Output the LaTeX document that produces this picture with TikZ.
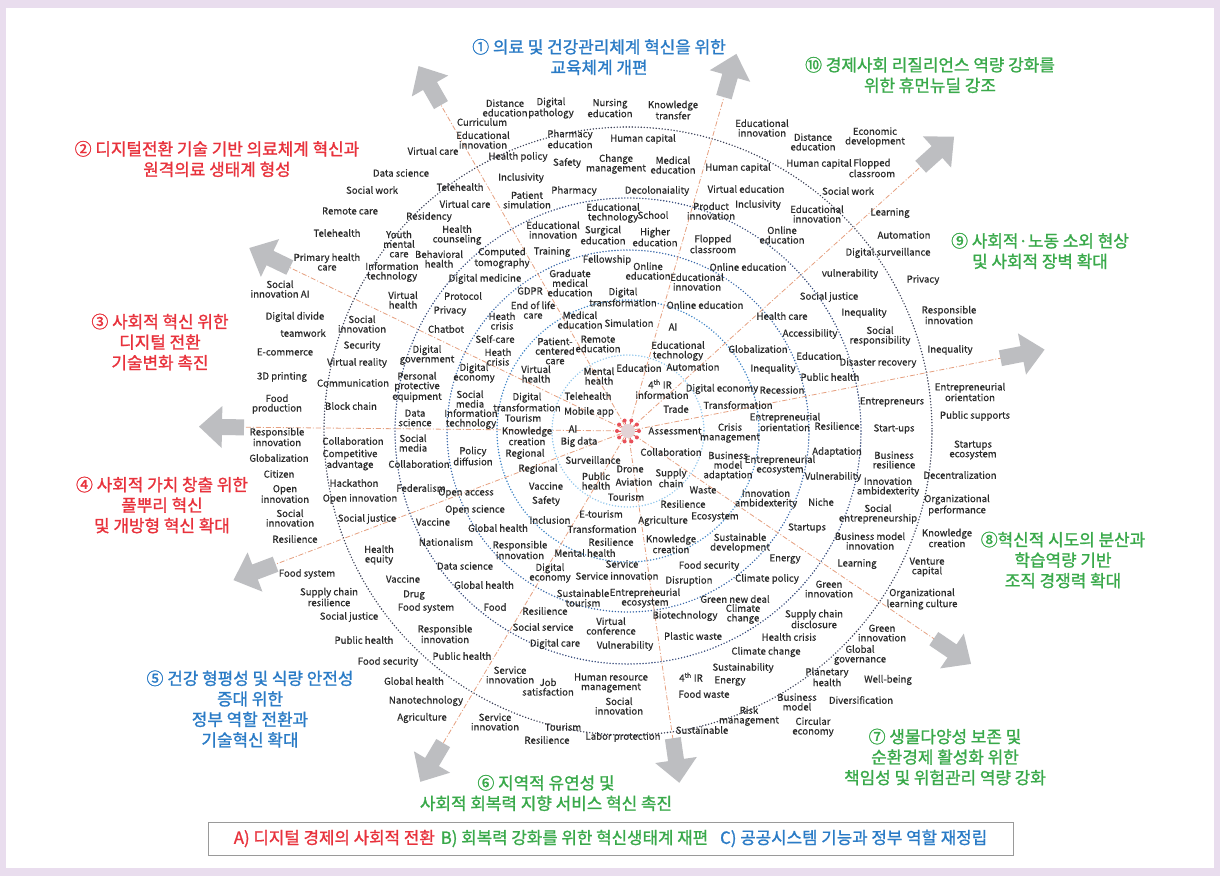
\documentclass[tikz,border=0pt]{standalone}
\usepackage{fontspec}
\setmainfont{Noto Sans CJK KR}
\newfontfamily\krf[FakeBold=0.5]{Noto Sans CJK KR}
\newfontfamily\krb[FakeBold=1.2]{Noto Sans CJK KR}
\usetikzlibrary{calc}
\definecolor{wtext}{HTML}{2A2A2A}
\definecolor{cred}{HTML}{E8323C}
\definecolor{cgreen}{HTML}{39A94A}
\definecolor{cblue}{HTML}{2A7BC6}
\definecolor{raycol}{HTML}{E6A080}
\definecolor{arrfill}{HTML}{BDBEC1}
\definecolor{ring1}{HTML}{8EC5EC}
\definecolor{ring2}{HTML}{3B82C6}
\definecolor{ring3}{HTML}{3565A8}
\definecolor{ring4}{HTML}{2F4477}
\definecolor{ring5}{HTML}{393E55}
\definecolor{framecol}{HTML}{E9DDEE}
\definecolor{legbord}{HTML}{9A9A9A}
\definecolor{virusfill}{HTML}{E3D3D5}
\definecolor{virusred}{HTML}{E8505A}
\newcommand\wf{\krf\fontsize{9.6}{9.6}\selectfont}
\newcommand\lf{\krb\fontsize{16.9}{20.5}\selectfont}
\newcommand\gf{\krb\fontsize{16.8}{18}\selectfont}
\newcommand\bigarr[2]{\begin{scope}[shift={(#1)},rotate=#2]\fill[arrfill] (-22,-8) -- (0,-8) -- (0,-21) -- (23,0) -- (0,21) -- (0,8) -- (-22,8) -- cycle;\end{scope}}
\begin{document}
\begin{tikzpicture}[x=1pt,y=-1pt,
  w/.style={font=\wf, text=wtext, align=center, inner sep=0pt},
  lab/.style={font=\lf, align=center, inner sep=0pt},
  ray/.style={draw=raycol, line width=0.8pt, dash pattern=on 5pt off 2pt on 1pt off 2pt},
  ring/.style={line width=1.6pt, dash pattern=on 0pt off 3pt, line cap=round}]
\useasboundingbox (0,0) rectangle (1220,876);
\fill[framecol] (0,0) rectangle (1220,876);
\fill[white] (6,8) rectangle (1214,868);
\coordinate (c0) at (628,431);
% rings
\draw[ring, draw=ring1] (c0) circle[radius=76];
\draw[ring, draw=ring2] (c0) circle[radius=131];
\draw[ring, draw=ring3] (c0) circle[radius=181];
\draw[ring, draw=ring4] (c0) circle[radius=233];
\draw[ring, draw=ring5] (c0) circle[radius=304];
% arrow positions
\coordinate (a1) at (430,86);
\coordinate (a2) at (730,76);
\coordinate (a3) at (937,152);
\coordinate (a4) at (1022,354);
\coordinate (a5) at (952,651);
\coordinate (a6) at (676,760);
\coordinate (a7) at (432,762);
\coordinate (a8) at (255,572);
\coordinate (a9) at (222,427);
\coordinate (a10) at (270,258);
% centre icon
\node[circle, fill=virusfill, minimum size=14pt, inner sep=0pt] (c) at (c0) {};
\foreach \i in {1,...,10} \draw[ray] (c) -- (a\i);
\foreach \a in {0,36,...,324} {
  \draw[virusred, line width=0.7pt] (c0) ++(\a:7) -- ++(\a:3);
  \fill[virusred] (c0) ++(\a:11) circle[radius=2];
}
% arrows
\bigarr{a1}{119.85}
\bigarr{a2}{73.97}
\bigarr{a3}{42.08}
\bigarr{a4}{11.06}
\bigarr{a5}{-34.18}
\bigarr{a6}{-81.70}
\bigarr{a7}{-120.63}
\bigarr{a8}{-159.29}
\bigarr{a9}{179.0}
\bigarr{a10}{154.21}
% words
\node[w] (w1) at (505,108) {Distance\\education};
\node[w] (w2) at (551,108) {Digital\\pathology};
\node[w] (w3) at (610,108) {Nursing\\education};
\node[w] (w4) at (673,110) {Knowledge\\transfer};
\node[w] (w5) at (482,122) {Curriculum};
\node[w] (w6) at (483,140) {Educational\\innovation};
\node[w] (w7) at (570,139) {Pharmacy\\education};
\node[w] (w8) at (643,139) {Human capital};
\node[w] (w9) at (518,157) {Health policy};
\node[w] (w10) at (567,163) {Safety};
\node[w] (w11) at (616,164) {Change\\management};
\node[w] (w12) at (673,165) {Medical\\education};
\node[w] (w13) at (521,178) {Inclusivity};
\node[w] (w14) at (574,191) {Pharmacy};
\node[w] (w15) at (657,191) {Decolonaiality};
\node[w] (w16) at (527,200) {Patient\\simulation};
\node[w] (w17) at (613,213) {Educational\\technology};
\node[w] (w18) at (653,215) {School};
\node[w] (w19) at (711,211) {Product\\innovation};
\node[w] (w20) at (553,230) {Educational\\innovation};
\node[w] (w21) at (603,235) {Surgical\\education};
\node[w] (w22) at (655,237) {Higher\\education};
\node[w] (w23) at (713,244) {Flopped\\classroom};
\node[w] (w24) at (552,252) {Training};
\node[w] (w25) at (607,260) {Fellowship};
\node[w] (w26) at (648,271) {Online\\education};
\node[w] (w27) at (502,258) {Computed\\tomography};
\node[w] (w28) at (570,283) {Graduate\\medical\\education};
\node[w] (w29) at (697,282) {Educational\\innovation};
\node[w] (w30) at (485,279) {Digital medicine};
\node[w] (w31) at (530,291) {GDPR};
\node[w] (w32) at (623,297) {Digital\\transformation};
\node[w] (w33) at (705,305) {Online education};
\node[w] (w34) at (533,310) {End of life\\care};
\node[w] (w35) at (502,321) {Heath\\crisis};
\node[w] (w36) at (580,320) {Medical\\education};
\node[w] (w37) at (629,323) {Simulation};
\node[w] (w38) at (673,327) {AI};
\node[w] (w39) at (495,339) {Self-care};
\node[w] (w40) at (555,351) {Patient-\\centered\\care};
\node[w] (w41) at (598,344) {Remote\\education};
\node[w] (w42) at (678,351) {Educational\\technology};
\node[w] (w43) at (498,357) {Heath\\crisis};
\node[w] (w44) at (536,374) {Virtual\\health};
\node[w] (w45) at (599,376) {Mental\\health};
\node[w] (w46) at (639,368) {Education};
\node[w] (w47) at (693,367) {Automation};
\node[w] (w48) at (660,384) {4\textsuperscript{th} IR};
\node[w] (w49) at (662,395) {information};
\node[w] (w50) at (722,389) {Digital economy};
\node[w] (w51) at (527,402) {Digital\\transformation};
\node[w] (w52) at (588,396) {Telehealth};
\node[w] (w53) at (676,409) {Trade};
\node[w] (w54) at (738,405) {Transformation};
\node[w] (w55) at (523,418) {Tourism};
\node[w] (w56) at (589,412) {Mobile app};
\node[w] (w57) at (527,436) {Knowledge\\creation};
\node[w] (w58) at (573,429) {AI};
\node[w] (w59) at (675,431) {Assessment};
\node[w] (w60) at (730,433) {Crisis\\management};
\node[w] (w61) at (579,442) {Big data};
\node[w] (w62) at (671,452) {Collaboration};
\node[w] (w63) at (525,454) {Regional};
\node[w] (w64) at (593,460) {Surveillance};
\node[w] (w65) at (728,466) {Business\\model\\adaptation};
\node[w] (w66) at (538,469) {Regional};
\node[w] (w67) at (630,469) {Drone};
\node[w] (w68) at (671,478) {Supply\\chain};
\node[w] (w69) at (596,481) {Public\\health};
\node[w] (w70) at (634,482) {Aviation};
\node[w] (w71) at (546,486) {Vaccine};
\node[w] (w72) at (703,490) {Waste};
\node[w] (w73) at (626,497) {Tourism};
\node[w] (w74) at (546,501) {Safety};
\node[w] (w75) at (683,504) {Resilience};
\node[w] (w76) at (601,514) {E-tourism};
\node[w] (w77) at (663,521) {Agriculture};
\node[w] (w78) at (550,520) {Inclusion};
\node[w] (w79) at (715,517) {Ecosystem};
\node[w] (w80) at (602,529) {Transformation};
\node[w] (w81) at (611,542) {Resilience};
\node[w] (w82) at (671,544) {Knowledge\\creation};
\node[w] (w83) at (520,550) {Responsible\\innovation};
\node[w] (w84) at (585,553) {Mental health};
\node[w] (w85) at (740,543) {Sustainable\\development};
\node[w] (w86) at (622,564) {Service};
\node[w] (w87) at (709,566) {Food security};
\node[w] (w88) at (550,573) {Digital\\economy};
\node[w] (w89) at (617,576) {Service innovation};
\node[w] (w90) at (689,581) {Disruption};
\node[w] (w91) at (583,598) {Sustainable\\tourism};
\node[w] (w92) at (645,598) {Entrepreneurial\\ecosystem};
\node[w] (w93) at (735,599) {Green new deal};
\node[w] (w94) at (495,607) {Food};
\node[w] (w95) at (545,611) {Resilience};
\node[w] (w96) at (685,616) {Biotechnology};
\node[w] (w97) at (743,614) {Climate\\change};
\node[w] (w98) at (611,626) {Virtual\\conference};
\node[w] (w99) at (543,627) {Social service};
\node[w] (w100) at (693,636) {Plastic waste};
\node[w] (w101) at (555,644) {Digital care};
\node[w] (w102) at (625,646) {Vulnerability};
\node[w] (w103) at (510,675) {Service\\innovation};
\node[w] (w104) at (548,687) {Job\\satisfaction};
\node[w] (w105) at (611,683) {Human resource\\management};
\node[w] (w106) at (691,677) {4\textsuperscript{th} IR};
\node[w] (w107) at (743,668) {Sustainability};
\node[w] (w108) at (730,681) {Energy};
\node[w] (w109) at (704,694) {Food waste};
\node[w] (w110) at (619,706) {Social\\innovation};
\node[w] (w111) at (495,722) {Service\\innovation};
\node[w] (w112) at (563,727) {Tourism};
\node[w] (w113) at (702,730) {Sustainable};
\node[w] (w114) at (547,740) {Resilience};
\node[w] (w115) at (623,737) {Labor protection};
\node[w] (w116) at (749,716) {Risk\\management};
\node[w] (w117) at (797,702) {Business\\model};
\node[w] (w118) at (813,727) {Circular\\economy};
\node[w] (w119) at (861,700) {Diversification};
\node[w] (w120) at (827,677) {Planetary\\health};
\node[w] (w121) at (888,680) {Well-being};
\node[w] (w122) at (860,655) {Global\\governance};
\node[w] (w123) at (766,652) {Climate change};
\node[w] (w124) at (789,637) {Health crisis};
\node[w] (w125) at (882,633) {Green\\innovation};
\node[w] (w126) at (814,619) {Supply chain\\disclosure};
\node[w] (w127) at (922,599) {Organizational\\learning culture};
\node[w] (w128) at (829,589) {Green\\innovation};
\node[w] (w129) at (767,579) {Climate policy};
\node[w] (w130) at (927,567) {Venture\\capital};
\node[w] (w131) at (857,564) {Learning};
\node[w] (w132) at (785,559) {Energy};
\node[w] (w133) at (947,538) {Knowledge\\creation};
\node[w] (w134) at (870,541) {Business model\\innovation};
\node[w] (w135) at (807,528) {Startups};
\node[w] (w136) at (878,514) {Social\\entrepreneurship};
\node[w] (w137) at (957,505) {Organizational\\performance};
\node[w] (w138) at (821,502) {Niche};
\node[w] (w139) at (766,499) {Innovation\\ambidexterity};
\node[w] (w140) at (888,487) {Innovation\\ambidexterity};
\node[w] (w141) at (833,477) {Vulnerability};
\node[w] (w142) at (960,475) {Decentralization};
\node[w] (w143) at (780,465) {Entrepreneurial\\ecosystem};
\node[w] (w144) at (894,460) {Business\\resilience};
\node[w] (w145) at (837,452) {Adaptation};
\node[w] (w146) at (973,450) {Startups\\ecosystem};
\node[w] (w147) at (894,429) {Start-ups};
\node[w] (w148) at (837,426) {Resilience};
\node[w] (w149) at (785,422) {Entrepreneurial\\orientation};
\node[w] (w150) at (975,416) {Public supports};
\node[w] (w151) at (892,402) {Entrepreneurs};
\node[w] (w152) at (970,392) {Entrepreneurial\\orientation};
\node[w] (w153) at (782,390) {Recession};
\node[w] (w154) at (830,377) {Public health};
\node[w] (w155) at (773,369) {Inequality};
\node[w] (w156) at (878,363) {Disaster recovery};
\node[w] (w157) at (819,356) {Education};
\node[w] (w158) at (758,349) {Globalization};
\node[w] (w159) at (950,350) {Inequality};
\node[w] (w160) at (880,336) {Social\\responsibility};
\node[w] (w161) at (810,334) {Accessibility};
\node[w] (w162) at (782,316) {Health care};
\node[w] (w163) at (864,313) {Inequality};
\node[w] (w164) at (949,315) {Responsible\\innovation};
\node[w] (w165) at (829,297) {Social justice};
\node[w] (w166) at (923,280) {Privacy};
\node[w] (w167) at (850,274) {vulnerability};
\node[w] (w168) at (748,267) {Online education};
\node[w] (w169) at (888,253) {Digital surveillance};
\node[w] (w170) at (782,235) {Online\\education};
\node[w] (w171) at (904,235) {Automation};
\node[w] (w172) at (817,214) {Educational\\innovation};
\node[w] (w173) at (890,213) {Learning};
\node[w] (w174) at (758,205) {Inclusivity};
\node[w] (w175) at (746,189) {Virtual education};
\node[w] (w176) at (848,191) {Social work};
\node[w] (w177) at (738,168) {Human capital};
\node[w] (w178) at (819,164) {Human capital};
\node[w] (w179) at (872,168) {Flopped\\classroom};
\node[w] (w180) at (762,128) {Educational\\innovation};
\node[w] (w181) at (813,142) {Distance\\education};
\node[w] (w182) at (875,137) {Economic\\development};
\node[w] (w183) at (433,151) {Virtual care};
\node[w] (w184) at (401,173) {Data science};
\node[w] (w185) at (460,187) {Telehealth};
\node[w] (w186) at (372,190) {Social work};
\node[w] (w187) at (465,204) {Virtual care};
\node[w] (w188) at (350,211) {Remote care};
\node[w] (w189) at (429,217) {Residency};
\node[w] (w190) at (337,233) {Telehealth};
\node[w] (w191) at (457,235) {Health\\counseling};
\node[w] (w192) at (399,244) {Youth\\mental\\care};
\node[w] (w193) at (439,259) {Behavioral\\health};
\node[w] (w194) at (327,262) {Primary health\\care};
\node[w] (w195) at (392,272) {Information\\technology};
\node[w] (w196) at (280,289) {Social\\innovation AI};
\node[w] (w197) at (403,300) {Virtual\\health};
\node[w] (w198) at (463,296) {Protocol};
\node[w] (w199) at (450,311) {Privacy};
\node[w] (w200) at (295,317) {Digital divide};
\node[w] (w201) at (362,324) {Social\\innovation};
\node[w] (w202) at (446,329) {Chatbot};
\node[w] (w203) at (303,333) {teamwork};
\node[w] (w204) at (362,346) {Security};
\node[w] (w205) at (285,352) {E-commerce};
\node[w] (w206) at (427,355) {Digital\\government};
\node[w] (w207) at (357,363) {Virtual reality};
\node[w] (w208) at (474,373) {Digital\\economy};
\node[w] (w209) at (282,377) {3D printing};
\node[w] (w210) at (353,383) {Communication};
\node[w] (w211) at (417,387) {Personal\\protective\\equipment};
\node[w] (w212) at (470,399) {Social\\media};
\node[w] (w213) at (277,404) {Food\\production};
\node[w] (w214) at (351,406) {Block chain};
\node[w] (w215) at (415,418) {Data\\science};
\node[w] (w216) at (471,419) {Information\\technology};
\node[w] (w217) at (277,437) {Responsible\\innovation};
\node[w] (w218) at (353,441) {Collaboration};
\node[w] (w219) at (413,443) {Social\\media};
\node[w] (w220) at (473,456) {Policy\\diffusion};
\node[w] (w221) at (279,458) {Globalization};
\node[w] (w222) at (350,460) {Competitive\\advantage};
\node[w] (w223) at (419,464) {Collaboration};
\node[w] (w224) at (279,474) {Citizen};
\node[w] (w225) at (354,483) {Hackathon};
\node[w] (w226) at (421,488) {Federalism};
\node[w] (w227) at (466,493) {Open access};
\node[w] (w228) at (285,494) {Open\\innovation};
\node[w] (w229) at (360,499) {Open innovation};
\node[w] (w230) at (475,510) {Open science};
\node[w] (w231) at (290,518) {Social\\innovation};
\node[w] (w232) at (367,519) {Social justice};
\node[w] (w233) at (433,522) {Vaccine};
\node[w] (w234) at (498,528) {Global health};
\node[w] (w235) at (295,539) {Resilience};
\node[w] (w236) at (446,542) {Nationalism};
\node[w] (w237) at (379,555) {Health\\equity};
\node[w] (w238) at (465,566) {Data science};
\node[w] (w239) at (307,574) {Food system};
\node[w] (w240) at (403,579) {Vaccine};
\node[w] (w241) at (484,585) {Global health};
\node[w] (w242) at (414,595) {Drug};
\node[w] (w243) at (329,597) {Supply chain\\resilience};
\node[w] (w244) at (426,608) {Food system};
\node[w] (w245) at (349,617) {Social justice};
\node[w] (w246) at (445,634) {Responsible\\innovation};
\node[w] (w247) at (364,640) {Public health};
\node[w] (w248) at (462,656) {Public health};
\node[w] (w249) at (388,662) {Food security};
\node[w] (w250) at (414,681) {Global health};
\node[w] (w251) at (426,701) {Nanotechnology};
\node[w] (w252) at (422,718) {Agriculture};
% sector labels
\node[lab, text=cblue] (l1) at (599,57) {① 의료 및 건강관리체계 혁신을 위한\\교육체계 개편};
\node[lab, text=cgreen] (l10) at (930,75) {⑩ 경제사회 리질리언스 역량 강화를\\위한 휴먼뉴딜 강조};
\node[lab, text=cgreen] (l9) at (1040,251) {⑨ 사회적·노동 소외 현상\\및 사회적 장벽 확대};
\node[lab, text=cgreen] (l8) at (1063,560) {⑧혁신적 시도의 분산과\\학습역량 기반\\조직 경쟁력 확대};
\node[lab, text=cgreen] (l7) at (945,757) {⑦ 생물다양성 보존 및\\순환경제 활성화 위한\\책임성 및 위험관리 역량 강화};
\node[lab, text=cgreen] (l6) at (546,793) {⑥ 지역적 유연성 및\\사회적 회복력 지향 서비스 혁신 촉진};
\node[lab, text=cblue] (l5) at (250,709) {⑤ 건강 형평성 및 식량 안전성\\증대 위한\\정부 역할 전환과\\기술혁신 확대};
\node[lab, text=cred] (l4) at (162,505) {④ 사회적 가치 창출 위한\\풀뿌리 혁신\\및 개방형 혁신 확대};
\node[lab, text=cred] (l3) at (160,342) {③ 사회적 혁신 위한\\디지털 전환\\기술변화 촉진};
\node[lab, text=cred] (l2) at (217,159) {② 디지털전환 기술 기반 의료체계 혁신과\\원격의료 생태계 형성};
% legend
\node[draw=legbord, line width=0.8pt, minimum width=805pt, minimum height=33pt, inner sep=0pt, font=\gf] (leg) at (610.5,838.5)
  {\textcolor{cred}{A) 디지털 경제의 사회적 전환}\hspace{6pt}\textcolor{cgreen}{B) 회복력 강화를 위한 혁신생태계 재편}\hspace{12pt}\textcolor{cblue}{C) 공공시스템 기능과 정부 역할 재정립}};
\end{tikzpicture}
\end{document}
